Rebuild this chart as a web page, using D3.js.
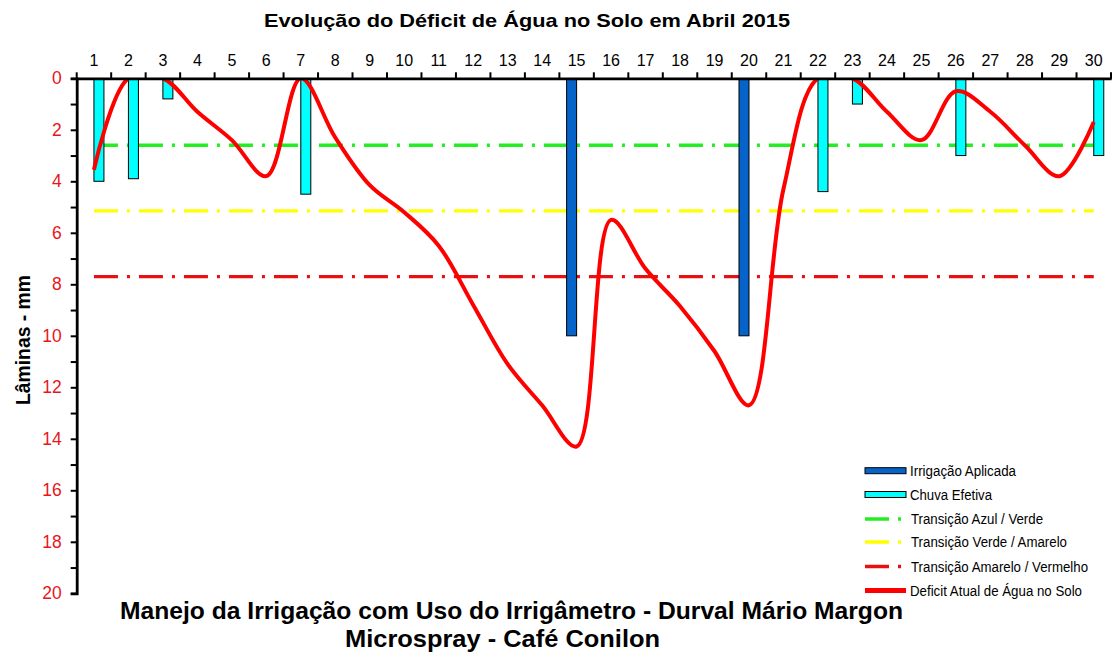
<!DOCTYPE html>
<html>
<head>
<meta charset="utf-8">
<script src="https://cdn.jsdelivr.net/npm/d3@7"></script>
<style>
  html, body { margin: 0; padding: 0; background: #fff; }
  svg { display: block; font-family: "Liberation Sans", Arial, sans-serif; }
</style>
</head>
<body>
<svg id="chart" width="1119" height="656"></svg>
<script>
const days = d3.range(1, 31);
const irrigacao = [0,0,0,0,0,0,0,0,0,0,0,0,0,0,10,0,0,0,0,10,0,0,0,0,0,0,0,0,0,0];
const chuva = [4.0,3.9,0.8,0,0,0,4.5,0,0,0,0,0,0,0,0,0,0,0,0,0,0,4.4,1.0,0,0,3.0,0,0,0,3.0];
const deficit = [3.55,0,0,1.3,2.4,3.8,0,2.3,4.15,5.2,6.5,8.8,11.1,12.7,14.3,5.5,7.4,8.85,10.6,12.7,4.3,0,0,1.3,2.4,0.5,1.3,2.6,3.8,1.7];
const transAzulVerde = 2.6;
const transVerdeAmarelo = 5.15;
const transAmareloVermelho = 7.7;
const yTicks = d3.range(0, 21);
const legendLabels = ["Irrigação Aplicada","Chuva Efetiva","Transição Azul / Verde","Transição Verde / Amarelo","Transição Amarelo / Vermelho","Deficit Atual de Água no Solo"];

const svg = d3.select("#chart");
const x = d3.scaleBand().domain(days).range([76.7, 1111]).padding(0);
const bw = x.bandwidth();
const xc = d => x(d) + bw / 2;
const xSub = d3.scaleBand().domain(["irr", "rain"]).range([bw / 2 - 10, bw / 2 + 10]).padding(0);
const y = d3.scaleLinear().domain([0, 20]).range([78.3, 593.3]);

const dashPat = "24,9,3,9";

svg.append("clipPath").attr("id", "plotClip")
  .append("rect").attr("x", x.range()[0]).attr("y", y(0))
  .attr("width", x.range()[1] - x.range()[0]).attr("height", y(20) - y(0));

const plot = svg.append("g").attr("clip-path", "url(#plotClip)");

// threshold lines
const thresholds = [
  {v: transAzulVerde, c: "#22ee22"},
  {v: transVerdeAmarelo, c: "#ffff00"},
  {v: transAmareloVermelho, c: "#e81010"}
];
const lineGen = d3.line().x(d => xc(d.day)).y(d => y(d.v));
thresholds.forEach(t => {
  plot.append("path")
    .datum(days.map(d => ({day: d, v: t.v})))
    .attr("d", lineGen)
    .attr("fill", "none")
    .attr("stroke", t.c)
    .attr("stroke-width", 3.3)
    .attr("stroke-dasharray", dashPat);
});

// bars
plot.append("g").selectAll("rect.irr")
  .data(days.map((d, i) => ({day: d, v: irrigacao[i]})).filter(d => d.v > 0))
  .join("rect")
  .attr("x", d => x(d.day) + xSub("irr"))
  .attr("y", y(0))
  .attr("width", xSub.bandwidth())
  .attr("height", d => y(d.v) - y(0))
  .attr("fill", "#0563c9")
  .attr("stroke", "#000").attr("stroke-width", 1);

plot.append("g").selectAll("rect.rain")
  .data(days.map((d, i) => ({day: d, v: chuva[i]})).filter(d => d.v > 0))
  .join("rect")
  .attr("x", d => x(d.day) + xSub("rain"))
  .attr("y", y(0))
  .attr("width", xSub.bandwidth())
  .attr("height", d => y(d.v) - y(0))
  .attr("fill", "#00ffff")
  .attr("stroke", "#000").attr("stroke-width", 1);

// deficit line
const defLine = d3.line().x(d => xc(d.day)).y(d => y(d.v)).curve(d3.curveCatmullRom.alpha(0.5));
plot.append("path")
  .datum(days.map((d, i) => ({day: d, v: deficit[i]})))
  .attr("d", defLine)
  .attr("fill", "none")
  .attr("stroke", "#ff0000")
  .attr("stroke-width", 4)
  .attr("stroke-linejoin", "round");

// top axis
const xAxis = d3.axisTop(x).tickSize(0).tickPadding(12);
const gx = svg.append("g").attr("transform", `translate(0,${y(0)})`).call(xAxis);
gx.select(".domain").attr("stroke", "#000").attr("stroke-width", 2.8);
gx.selectAll("text").attr("font-size", 16).attr("fill", "#000").attr("font-family", "Liberation Sans, Arial, sans-serif");
const bounds = days.map(d => x(d)).concat([x.range()[1]]);
gx.selectAll("line.bt").data(bounds).join("line")
  .attr("class", "bt")
  .attr("x1", d => d).attr("x2", d => d)
  .attr("y1", 1).attr("y2", -6)
  .attr("stroke", "#000").attr("stroke-width", 2);

// left axis
const yAxis = d3.axisLeft(y).tickValues(yTicks).tickSize(6).tickPadding(9)
  .tickFormat(d => d % 2 === 0 ? d : "");
const gy = svg.append("g").attr("transform", `translate(${x.range()[0]},0)`).call(yAxis);
gy.select(".domain").attr("stroke", "#000").attr("stroke-width", 2.8);
gy.selectAll(".tick line").attr("stroke", "#000").attr("stroke-width", 2);
gy.selectAll("text").attr("font-size", 17.5).attr("fill", "#e8161c").attr("font-family", "Liberation Sans, Arial, sans-serif");

// titles
svg.append("text").attr("x", 264).attr("y", 27)
  .attr("font-size", 19).attr("font-weight", "bold")
  .attr("textLength", 526).attr("lengthAdjust", "spacingAndGlyphs")
  .text("Evolução do Déficit de Água no Solo em Abril  2015");

svg.append("text").attr("transform", "translate(30,340) rotate(-90)").attr("text-anchor", "middle")
  .attr("font-size", 19.5).attr("font-weight", "bold")
  .attr("textLength", 130).attr("lengthAdjust", "spacingAndGlyphs")
  .text("Lâminas - mm");

svg.append("text").attr("x", 120).attr("y", 619)
  .attr("font-size", 24).attr("font-weight", "bold")
  .attr("textLength", 783).attr("lengthAdjust", "spacingAndGlyphs")
  .text("Manejo da Irrigação com Uso do Irrigâmetro  - Durval Mário Margon");
svg.append("text").attr("x", 345).attr("y", 647)
  .attr("font-size", 24).attr("font-weight", "bold")
  .attr("textLength", 315).attr("lengthAdjust", "spacingAndGlyphs")
  .text("Microspray - Café Conilon");

// legend
const legendTextWidths = [106, 82, 132, 156, 177, 172];
const lg = svg.append("g").attr("transform", "translate(865,0)");
const rows = [470.7, 494.5, 519, 542, 566.5, 590.5];
legendLabels.forEach((lab, i) => {
  const ry = rows[i];
  if (i < 2) {
    lg.append("rect").attr("x", 0).attr("y", ry - 3).attr("width", 41).attr("height", 6)
      .attr("fill", i === 0 ? "#0563c9" : "#00ffff").attr("stroke", "#000").attr("stroke-width", 1);
  } else if (i < 5) {
    lg.append("line").attr("x1", 0).attr("x2", 41).attr("y1", ry).attr("y2", ry)
      .attr("stroke", thresholds[i - 2].c).attr("stroke-width", 3.3).attr("stroke-dasharray", dashPat);
  } else {
    lg.append("line").attr("x1", 0).attr("x2", 41).attr("y1", ry).attr("y2", ry)
      .attr("stroke", "#ff0000").attr("stroke-width", 5);
  }
  lg.append("text").attr("x", i >= 2 && i < 5 ? 46 : 45).attr("y", ry + 5)
    .attr("font-size", 14).attr("fill", "#000")
    .attr("textLength", legendTextWidths[i]).attr("lengthAdjust", "spacingAndGlyphs")
    .text(lab);
});
</script>
</body>
</html>
